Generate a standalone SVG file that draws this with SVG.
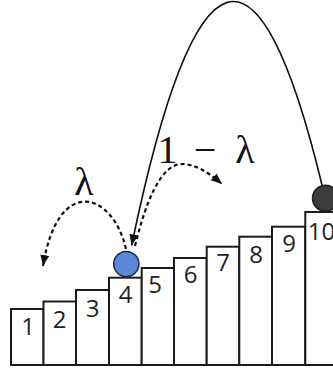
<svg xmlns="http://www.w3.org/2000/svg" width="333" height="371" viewBox="0 0 333 371">
  <style>
    .bar { fill: #ffffff; stroke: #1c1c1c; stroke-width: 2; }
    .num { font-family: "Open Sans", "Liberation Sans", sans-serif; font-size: 24px; fill: #222222; text-anchor: middle; }
    .math { font-family: "Liberation Serif", "DejaVu Serif", serif; font-size: 40px; fill: #111111; text-anchor: middle; }
    .jump { fill: none; stroke: #111111; stroke-width: 1.6; }
    .step { fill: none; stroke: #111111; stroke-width: 2.2; stroke-dasharray: 4 3; }
  </style>
  <defs>
    <marker id="head" markerUnits="userSpaceOnUse" markerWidth="12" markerHeight="10" refX="11" refY="4.5" orient="auto">
      <path d="M0,0 L11,4.5 L0,9 z" fill="#111111"/>
    </marker>
  </defs>
  <rect width="333" height="371" fill="#ffffff"/>

  <!-- staircase of positions 1..10 -->
  <g id="bar-1"><rect class="bar" x="11" y="309" width="32.5" height="56"/><text class="num" x="28" y="335">1</text></g>
  <g id="bar-2"><rect class="bar" x="43.5" y="301.5" width="32.5" height="63.5"/><text class="num" x="59.5" y="328">2</text></g>
  <g id="bar-3"><rect class="bar" x="76" y="290" width="33" height="75"/><text class="num" x="92.5" y="317">3</text></g>
  <g id="bar-4"><rect class="bar" x="109" y="277.7" width="32.7" height="87.3"/><text class="num" x="125.5" y="303">4</text></g>
  <g id="bar-5"><rect class="bar" x="141.7" y="268" width="32.3" height="97"/><text class="num" x="155" y="293">5</text></g>
  <g id="bar-6"><rect class="bar" x="174" y="258" width="32.7" height="107"/><text class="num" x="190.5" y="283">6</text></g>
  <g id="bar-7"><rect class="bar" x="206.7" y="246.7" width="32.6" height="118.3"/><text class="num" x="223" y="271">7</text></g>
  <g id="bar-8"><rect class="bar" x="239.3" y="236.7" width="32.7" height="128.3"/><text class="num" x="256" y="263">8</text></g>
  <g id="bar-9"><rect class="bar" x="272" y="226.7" width="33.3" height="138.3"/><text class="num" x="289" y="252">9</text></g>
  <g id="bar-10"><rect class="bar" x="305.3" y="212" width="33" height="153"/><text class="num" x="321.5" y="240">10</text></g>

  <!-- walkers -->
  <g id="ball-current"><circle cx="126.3" cy="264" r="12.6" fill="#5b87d6" stroke="#1d2a4e" stroke-width="1.5"/></g>
  <g id="ball-top"><circle cx="325.5" cy="198.3" r="13" fill="#3b3b3d" stroke="#1e1e1e" stroke-width="1.5"/></g>

  <!-- transitions -->
  <g id="connectors">
    <path class="jump" d="M322,185 Q226.4,-210 131.6,245.5" marker-end="url(#head)"/>
    <path class="step" d="M126,249 C113,192 58,174 43,266" marker-end="url(#head)"/>
    <path class="step" d="M135,246 C145,205 160,164 182,164 C195,164 208,172 222,184" marker-end="url(#head)"/>
  </g>

  <!-- probabilities -->
  <g id="labels">
    <text class="math" x="84" y="195">λ</text>
    <text class="math" x="167.5" y="163">1</text>
    <text class="math" x="205" y="163">−</text>
    <text class="math" x="245" y="163">λ</text>
  </g>
</svg>
